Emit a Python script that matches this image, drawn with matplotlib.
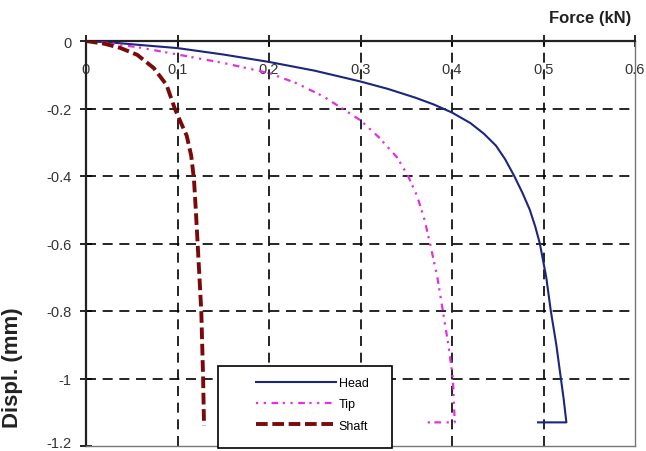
import matplotlib
matplotlib.use("Agg")
import matplotlib.pyplot as plt
from matplotlib.patches import Rectangle
from matplotlib.transforms import ScaledTranslation

plt.rcParams['font.family'] = ['Liberation Sans', 'DejaVu Sans']

# load-displacement curves (force in kN, displacement in mm)
head_force = [0, 0.03, 0.06, 0.1, 0.15, 0.2, 0.25, 0.3, 0.33, 0.36, 0.38, 0.4, 0.42, 0.435,
              0.448, 0.458, 0.468, 0.477, 0.485, 0.491, 0.496, 0.503, 0.508, 0.514, 0.519,
              0.522, 0.525, 0.494]
head_disp = [0, -0.005, -0.012, -0.021, -0.04, -0.062, -0.088, -0.12, -0.142, -0.168, -0.188,
             -0.212, -0.243, -0.275, -0.31, -0.35, -0.4, -0.45, -0.5, -0.55, -0.6, -0.7, -0.8,
             -0.9, -1.0, -1.06, -1.13, -1.13]

tip_force = [0, 0.03, 0.06, 0.1, 0.15, 0.2, 0.23, 0.26, 0.28, 0.3, 0.32, 0.34, 0.352, 0.362,
             0.37, 0.376, 0.384, 0.39, 0.396, 0.401, 0.403, 0.37]
tip_disp = [0, -0.008, -0.02, -0.04, -0.065, -0.095, -0.125, -0.165, -0.2, -0.235, -0.285,
            -0.345, -0.4, -0.46, -0.53, -0.6, -0.7, -0.8, -0.9, -1.0, -1.13, -1.13]

shaft_force = [0, 0.02, 0.037, 0.056, 0.074, 0.088, 0.097, 0.105, 0.11, 0.115, 0.118,
               0.12, 0.122, 0.124, 0.126, 0.127, 0.128, 0.129]
shaft_disp = [0, -0.008, -0.02, -0.041, -0.08, -0.13, -0.2, -0.25, -0.28, -0.34, -0.41,
              -0.5, -0.6, -0.7, -0.8, -0.9, -1.0, -1.14]

x_ticks = [0, 0.1, 0.2, 0.3, 0.4, 0.5, 0.6]
x_labels = ['0', '0.1', '0.2', '0.3', '0.4', '0.5', '0.6']
y_ticks = [0, -0.2, -0.4, -0.6, -0.8, -1.0, -1.2]
y_labels = ['0', '-0.2', '-0.4', '-0.6', '-0.8', '-1', '-1.2']

fig = plt.figure(figsize=(6.46, 4.52), dpi=100)
ax = fig.add_axes([86 / 646, 1 - 447 / 452, 549 / 646, 405 / 452])

ax.plot(head_force, head_disp, color='#1c2580', lw=1.5, label='Head', zorder=3)
ax.plot(tip_force, tip_disp, color='#e030e0', lw=1.6,
        linestyle=(0, (1, 2.5, 1, 2.5, 3, 2)), label='Tip', zorder=3)
ax.plot(shaft_force, shaft_disp, color='#7a0a0a', lw=2.8,
        linestyle=(0, (3, 1.2)), label='Shaft', zorder=3)

ax.set_xlim(0, 0.6)
ax.set_ylim(-1.2, 0)
ax.set_xticks(x_ticks)
ax.set_xticklabels(x_labels)
ax.set_yticks(y_ticks)
ax.set_yticklabels(y_labels)

# dashed grid only on the inner ticks, the frame stays solid
for xv in x_ticks[1:-1]:
    ax.axvline(xv, color='black', linestyle=(0, (6, 4)), linewidth=1.2, zorder=1)
for yv in y_ticks[1:-1]:
    ax.axhline(yv, color='black', linestyle=(0, (6, 4)), linewidth=1.2, zorder=1)

ax.tick_params(axis='x', top=True, bottom=False, labeltop=True, labelbottom=False,
               direction='inout', length=9, width=1.2, pad=-30, labelsize=10.5,
               labelcolor='#333333')
ax.tick_params(axis='y', direction='inout', length=9, width=1.2, pad=6,
               labelsize=10.5, labelcolor='#333333')

# lift the bottom y label a little so it stays inside the figure
last = ax.get_yticklabels()[-1]
last.set_transform(last.get_transform() + ScaledTranslation(0, 4 / 100, fig.dpi_scale_trans))

for side in ['left', 'top']:
    ax.spines[side].set_linewidth(1.6)
    ax.spines[side].set_color('#222222')
for side in ['right', 'bottom']:
    ax.spines[side].set_linewidth(1.0)
    ax.spines[side].set_color('#777777')

ax.set_ylabel('Displ. (mm)', fontsize=16, fontweight='bold', color='#222222')
ax.yaxis.set_label_coords(-0.115, 0.195)
fig.text(590 / 646, 1 - 18 / 452, 'Force (kN)', fontsize=12, fontweight='bold',
         color='#222222', ha='center', va='center')

# legend box with the entries sitting towards its right side
box = Rectangle((218 / 646, 1 - 449 / 452), 174 / 646, 82 / 452, transform=fig.transFigure,
                facecolor='white', edgecolor='black', linewidth=1.2, zorder=5)
fig.patches.append(box)
leg = fig.legend(loc='upper left', bbox_to_anchor=(256 / 646, 1 - 378 / 452),
                 frameon=False, fontsize=9, handlelength=6.4, handletextpad=0.2,
                 labelspacing=0.75, borderaxespad=0, borderpad=0)
leg.set_zorder(6)

fig.savefig('out.png', dpi=100)
